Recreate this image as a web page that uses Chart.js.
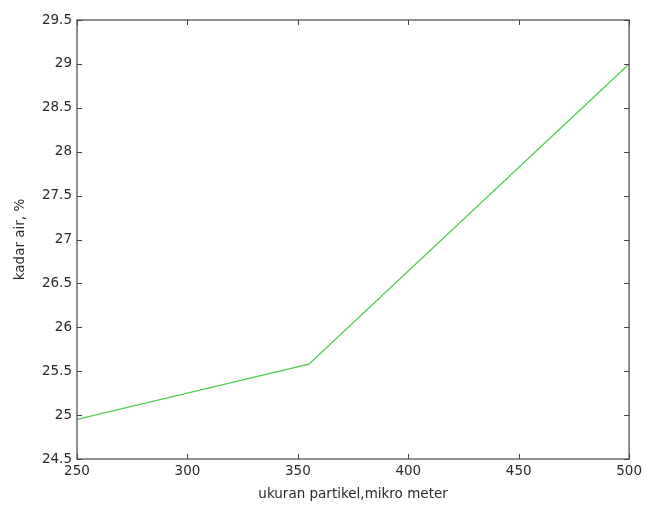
<!DOCTYPE html>
<html>
<head>
<meta charset="utf-8">
<script src="https://cdn.jsdelivr.net/npm/chart.js@4"></script>
<style>
html,body{margin:0;padding:0;background:#fff;}
#wrap{width:646px;height:505px;}
</style>
</head>
<body>
<div id="wrap"><canvas id="c" width="646" height="505"></canvas></div>
<script>
const particleSize = [250, 355, 500];
const waterContent = [24.95, 25.58, 29.0];
const xTicks = [250, 300, 350, 400, 450, 500];
const yTicks = [24.5, 25, 25.5, 26, 26.5, 27, 27.5, 28, 28.5, 29, 29.5];
const xLabel = 'ukuran partikel,mikro meter';
const yLabel = 'kadar air, %';

const boxPlugin = {
  id: 'box',
  afterDraw(chart) {
    const ctx = chart.ctx, a = chart.chartArea;
    const xs = chart.scales.x, ys = chart.scales.y;
    ctx.save();
    ctx.strokeStyle = '#6a6a6a';
    ctx.lineWidth = 1.5;
    ctx.strokeRect(a.left, a.top, a.right - a.left, a.bottom - a.top);
    ctx.lineWidth = 1;
    ctx.strokeStyle = '#444';
    const L = 5;
    ctx.beginPath();
    xTicks.forEach(v => {
      const px = Math.round(xs.getPixelForValue(v)) + 0.5;
      ctx.moveTo(px, a.bottom); ctx.lineTo(px, a.bottom - L);
      ctx.moveTo(px, a.top); ctx.lineTo(px, a.top + L);
    });
    yTicks.forEach(v => {
      const py = Math.round(ys.getPixelForValue(v)) + 0.5;
      ctx.moveTo(a.left, py); ctx.lineTo(a.left + L, py);
      ctx.moveTo(a.right, py); ctx.lineTo(a.right - L, py);
    });
    ctx.stroke();
    ctx.restore();
  }
};

const font = { family: '"DejaVu Sans", Arial, sans-serif', size: 13.5 };

new Chart(document.getElementById('c'), {
  type: 'line',
  data: {
    datasets: [{
      data: particleSize.map((x, i) => ({ x: x, y: waterContent[i] })),
      borderColor: 'rgb(80,205,80)',
      borderWidth: 1.3,
      pointRadius: 0,
      tension: 0,
      fill: false
    }]
  },
  options: {
    responsive: false,
    animation: false,
    devicePixelRatio: 1,
    layout: { padding: { left: 0, right: 15, top: 20, bottom: 0 } },
    plugins: { legend: { display: false }, tooltip: { enabled: false } },
    scales: {
      x: {
        type: 'linear', min: 250, max: 500,
        afterBuildTicks(s) { s.ticks = xTicks.map(v => ({ value: v })); },
        afterFit(s) { s.height = 46; },
        grid: { display: false, drawTicks: false },
        border: { display: false },
        ticks: { color: '#2a2a2a', font: font, padding: 4, maxRotation: 0, callback: v => String(v) },
        title: { display: true, text: xLabel, color: '#2a2a2a', font: font, padding: { top: 0, bottom: 2 } }
      },
      y: {
        type: 'linear', min: 24.5, max: 29.5,
        afterBuildTicks(s) { s.ticks = yTicks.map(v => ({ value: v })); },
        afterFit(s) { s.width = 77; },
        grid: { display: false, drawTicks: false },
        border: { display: false },
        ticks: { color: '#2a2a2a', font: font, padding: 5, callback: v => String(v) },
        title: { display: true, text: yLabel, color: '#2a2a2a', font: font, padding: { top: 12, bottom: 0 } }
      }
    }
  },
  plugins: [boxPlugin]
});
</script>
</body>
</html>
